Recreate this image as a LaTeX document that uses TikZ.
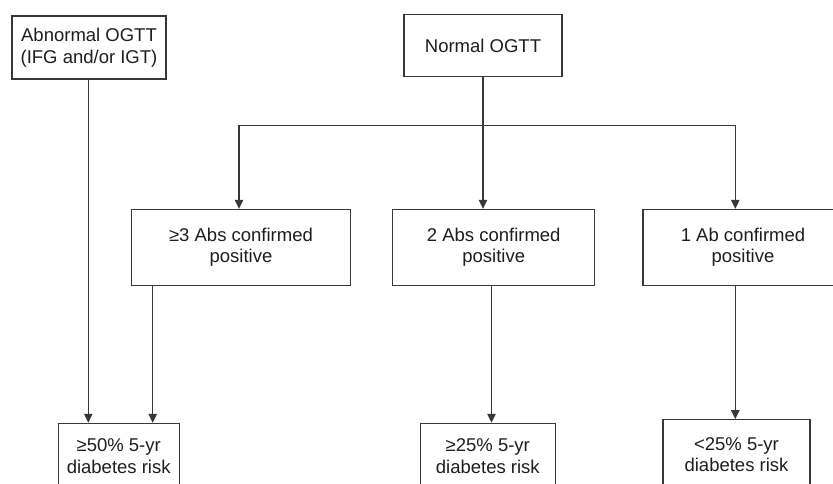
\documentclass[tikz,border=0pt]{standalone}
\usepackage{fontspec}
\setmainfont{Liberation Sans}
\usetikzlibrary{arrows.meta}
\definecolor{linec}{HTML}{383838}
\definecolor{textc}{HTML}{1E1E1E}
\begin{document}
\begin{tikzpicture}[x=1pt,y=-1pt,
  box/.style={draw=linec, line width=1.1pt, fill=white, text=textc, align=center,
    inner sep=0pt, font=\fontsize{18.5}{21.7}\selectfont},
  arr/.style={draw=linec, line width=1.1pt, -{Triangle[length=9pt,width=8.5pt]}},
  ln/.style={draw=linec, line width=1.1pt}]
\useasboundingbox (0,0) rectangle (833,484);
\clip (0,0) rectangle (833,484);
\fill[white] (0,0) rectangle (833,484);

\node[box, minimum width=154pt, minimum height=63pt] (A) at (89,47.5) {Abnormal OGTT\\(IFG and/or IGT)};
\node[box, minimum width=158pt, minimum height=62.5pt] (N) at (483,45.5) {Normal OGTT};

\node[box, minimum width=218.6pt, minimum height=75.7pt] (M1) at (241,247.2) {≥3 Abs confirmed\\positive};
\node[box, minimum width=202pt, minimum height=75.7pt] (M2) at (493.7,247.2) {2 Abs confirmed\\positive};
\node[box, minimum width=200pt, minimum height=75.7pt] (M3) at (743,247.2) {1 Ab confirmed\\positive};

\node[box, minimum width=120.7pt, minimum height=66pt] (B1) at (118.7,456.3) {≥50\% 5-yr\\diabetes risk};
\node[box, minimum width=135pt, minimum height=66pt] (B2) at (487.8,456.3) {≥25\% 5-yr\\diabetes risk};
\node[box, minimum width=147pt, minimum height=70pt] (B3) at (736.5,454.7) {<25\% 5-yr\\diabetes risk};

\coordinate (j1) at (239,125.3);
\coordinate (j2) at (483,125.3);
\coordinate (j3) at (735.3,125.3);
\coordinate (a1) at (88.3,79);
\coordinate (m1) at (152.7,285);
\coordinate (m2) at (491.5,285);
\coordinate (m3) at (735.3,285);

\draw[ln] (N.south) -- (j2);
\draw[ln] (j1) -- (j3);
\draw[arr] (j1) -- (j1 |- M1.north);
\draw[arr] (j2) -- (j2 |- M2.north);
\draw[arr] (j3) -- (j3 |- M3.north);

\draw[arr] (a1) -- (a1 |- B1.north);
\draw[arr] (m1) -- (m1 |- B1.north);
\draw[arr] (m2) -- (m2 |- B2.north);
\draw[arr] (m3) -- (m3 |- B3.north);
\end{tikzpicture}
\end{document}
